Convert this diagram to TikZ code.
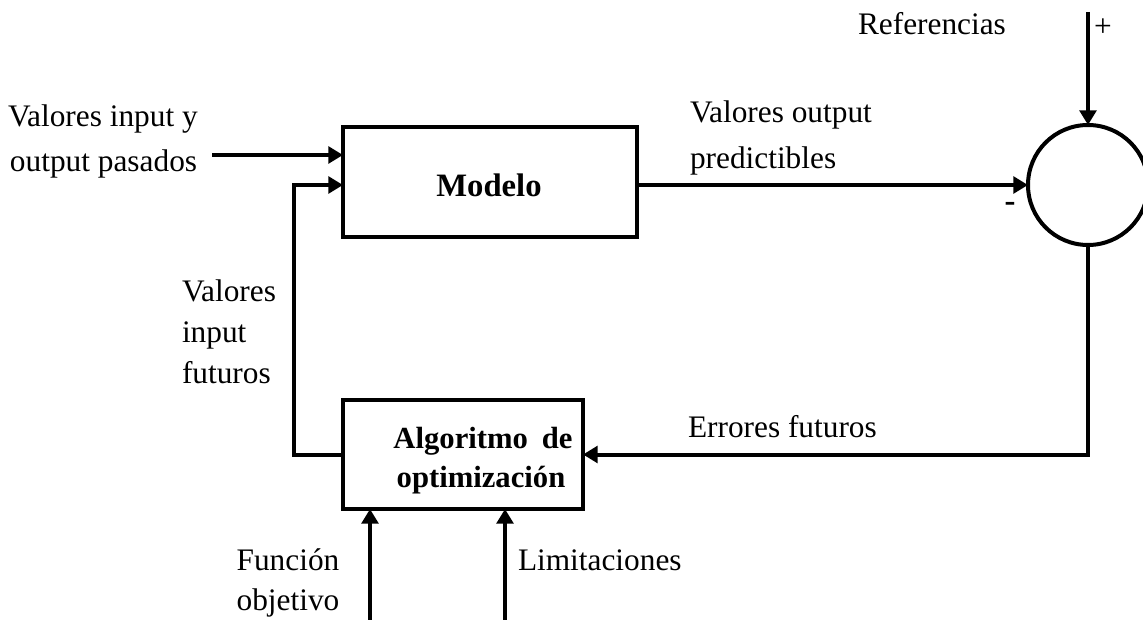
\documentclass[tikz,border=0pt]{standalone}
\usepackage{fontspec}
\setmainfont{Liberation Serif}
\usetikzlibrary{arrows.meta}
\begin{document}
\begin{tikzpicture}[x=0.75pt,y=-0.75pt,
  lbl/.style={inner sep=0pt, outer sep=0pt, font=\fontsize{23.5}{28}\selectfont},
  bold/.style={inner sep=0pt, outer sep=0pt, font=\fontsize{24.5}{29}\selectfont\bfseries},
  boldsm/.style={inner sep=0pt, outer sep=0pt, font=\fontsize{23}{28}\selectfont\bfseries},
  blk/.style={draw, line width=3pt, outer sep=0pt, inner sep=0pt},
  conn/.style={line width=3pt, -{Triangle[length=11pt,width=12.5pt]}}]
\useasboundingbox (0,0) rectangle (1143,620);
% blocks
\node[blk, minimum width=220.5pt, minimum height=82.5pt] (modelo) at (490,182) {};
\node[blk, minimum width=180pt, minimum height=81.75pt] (algo) at (463,454.5) {};
\node[blk, circle, minimum size=90pt] (sum) at (1088,185) {};
% block texts
\node[bold, anchor=base] (modelotxt) at (489,197) {Modelo};
\node[boldsm, anchor=base] (algotxt1) at (483,448) {Algoritmo\hspace{0.45em}de};
\node[boldsm, anchor=base] (algotxt2) at (481,487) {optimización};
% free ends
\coordinate (src) at (212,155);
\coordinate (ref) at (1088,12);
\coordinate (fo) at (370,620);
\coordinate (lim) at (505,620);
% connectors
\draw[conn] (src) -- (modelo.west |- src);
\draw[conn] (modelo.east |- sum.west) -- (sum.west);
\draw[conn] (ref) -- (sum.north);
\draw[conn] (sum.south) |- (algo.east);
\draw[conn] (algo.west) -- ++(-49,0) |- (modelo.west |- sum.west);
\draw[conn] (fo) -- (fo |- algo.south);
\draw[conn] (lim) -- (lim |- algo.south);
% labels
\node[lbl, anchor=base west] (l1a) at (8,127) {Valores input y};
\node[lbl, anchor=base west] (l1b) at (10,172) {output pasados};
\node[lbl, anchor=base west] (l2a) at (690,123) {Valores output};
\node[lbl, anchor=base west] (l2b) at (690,169) {predictibles};
\node[lbl, anchor=base west] (l3a) at (182,302) {Valores};
\node[lbl, anchor=base west] (l3b) at (182,343) {input};
\node[lbl, anchor=base west] (l3c) at (182,383) {futuros};
\node[lbl, anchor=base west] (l4) at (688,437) {Errores futuros};
\node[lbl, anchor=base] (l5a) at (288,570) {Función};
\node[lbl, anchor=base] (l5b) at (288,610) {objetivo};
\node[lbl, anchor=base west] (l6) at (518,570) {Limitaciones};
\node[lbl, anchor=base west] (l7) at (858,35) {Referencias};
\node[lbl] (plus) at (1103,28) {+};
\node[bold] (minus) at (1010,207) {-};
\end{tikzpicture}
\end{document}
